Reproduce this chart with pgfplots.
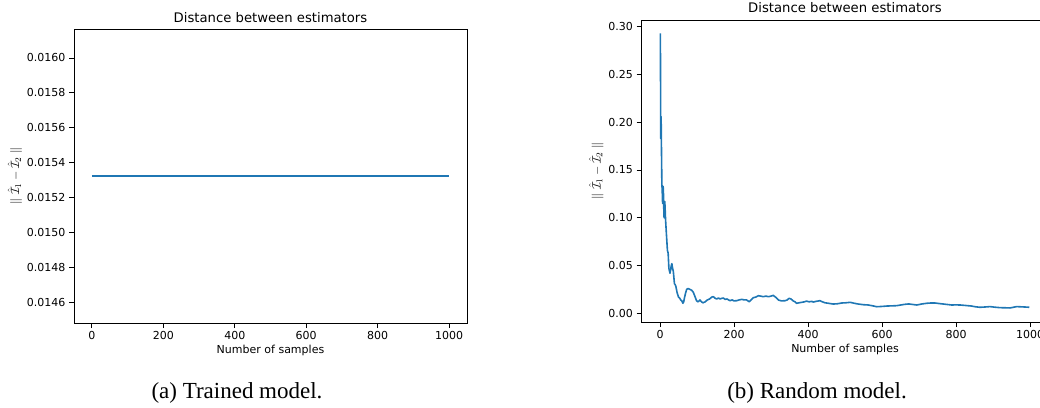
\documentclass[border=0pt]{standalone}
\usepackage{pgfplots}
\pgfplotsset{compat=1.18}
\usepackage{pgfplotstable}
\usepackage{fontspec}
\setmainfont{DejaVu Sans}
\newfontfamily\capfont{Liberation Serif}
\definecolor{mplblue}{HTML}{1F77B4}

\pgfplotstableread{
n v
0 0.015323
1000 0.015323
}\trained

\pgfplotstableread{
n v
1 0.293
2 0.183
3 0.206
4 0.170
5 0.136
6 0.128
7 0.115
8 0.133
9 0.131
10 0.112
11 0.100
12 0.112
13 0.117
14 0.108
15 0.098
17 0.085
20 0.066
22 0.063
24 0.047
27 0.042
29 0.046
30 0.049
32 0.052
34 0.047
36 0.044
39 0.031
41 0.030
43 0.028
46 0.022
50 0.017
53 0.016
56 0.014
59 0.013
62 0.0105
64 0.012
66 0.016
69 0.021
72 0.025
76 0.026
81 0.025
86 0.024
90 0.022
94 0.018
99 0.013
103 0.012
108 0.014
112 0.012
116 0.011
122 0.012
128 0.014
134 0.015
140 0.017
144 0.0174
148 0.016
153 0.015
158 0.016
162 0.015
167 0.0157
171 0.016
176 0.0146
181 0.015
189 0.0132
195 0.014
200 0.013
207 0.0132
214 0.014
221 0.0146
228 0.014
234 0.014
241 0.0121
246 0.014
252 0.0163
259 0.017
266 0.0184
272 0.018
279 0.0174
286 0.018
293 0.0174
300 0.018
306 0.0188
312 0.017
320 0.0139
328 0.013
338 0.0132
344 0.014
349 0.0157
354 0.015
360 0.013
365 0.012
369 0.0105
376 0.011
383 0.0115
390 0.012
396 0.0128
403 0.012
410 0.0125
414 0.0118
422 0.0125
432 0.0132
439 0.012
446 0.011
455 0.0105
468 0.0097
480 0.010
491 0.0108
502 0.011
514 0.0115
525 0.0105
536 0.0097
550 0.009
563 0.0087
575 0.0078
586 0.0069
600 0.0072
613 0.0076
627 0.0078
640 0.0080
652 0.0088
662 0.0094
672 0.0098
684 0.0092
694 0.0087
708 0.0098
721 0.0105
733 0.0108
743 0.0108
755 0.0102
766 0.0097
777 0.0092
788 0.0087
800 0.0088
811 0.0087
826 0.0082
842 0.0076
853 0.0068
865 0.0063
878 0.0066
892 0.007
905 0.0064
919 0.0059
932 0.0058
946 0.0056
955 0.0063
964 0.007
975 0.0068
986 0.0066
998 0.0063
}\randomm

\pgfplotsset{
  mystyle/.style={
    scale only axis,
    axis line style={black, line width=0.8pt},
    tick style={black, line width=0.8pt},
    major tick length=5pt,
    tick align=outside,
    tick pos=left,
    tick label style={font=\fontsize{11}{13}\selectfont},
    label style={font=\fontsize{11}{13}\selectfont},
    /pgf/number format/assume math mode=true,
    /pgf/number format/1000 sep={},
    scaled y ticks=false,
    scaled x ticks=false,
    xmin=-50, xmax=1050,
    xtick={0,200,400,600,800,1000},
    title={Distance between estimators},
    title style={font=\fontsize{13.2}{15}\selectfont, at={(axis description cs:0.5,1)}, anchor=base},
    xlabel={Number of samples},
    ylabel={$\|\;\hat{\mathcal{I}}_1 - \hat{\mathcal{I}}_2\;\|$},
    xlabel style={at={(axis description cs:0.5,0)}, anchor=base, yshift=-30pt},
    ylabel style={font=\fontsize{12.5}{14}\selectfont},
  }
}

\begin{document}
\begin{tikzpicture}
\path[use as bounding box, clip] (0,0) rectangle (1040pt,407pt);

\begin{axis}[mystyle,
  at={(74pt,84pt)}, anchor=south west,
  width=393pt, height=294pt,
  ymin=0.01448, ymax=0.016166,
  ytick={0.0146,0.0148,0.0150,0.0152,0.0154,0.0156,0.0158,0.0160},
  yticklabel style={/pgf/number format/fixed, /pgf/number format/fixed zerofill, /pgf/number format/precision=4},
  title style={yshift=0.3pt},
  ylabel style={at={(axis description cs:-0.150,0.5)}, anchor=center},
]
\addplot[mplblue, line width=1.6pt] table[x=n, y=v] {\trained};
\end{axis}

\begin{axis}[mystyle,
  at={(641.5pt,85pt)}, anchor=south west,
  width=407pt, height=302pt,
  ymin=-0.0091, ymax=0.307,
  ytick={0,0.05,0.10,0.15,0.20,0.25,0.30},
  yticklabel style={/pgf/number format/fixed, /pgf/number format/fixed zerofill, /pgf/number format/precision=2},
  title style={yshift=1.7pt},
  ylabel style={at={(axis description cs:-0.111,0.5)}, anchor=center},
]
\addplot[mplblue, line width=1.6pt, line join=round] table[x=n, y=v] {\randomm};
\end{axis}

\node[anchor=base, font=\capfont\fontsize{23}{26}\selectfont] at (237pt,9pt) {(a) Trained model.};
\node[anchor=base, font=\capfont\fontsize{23}{26}\selectfont] at (817pt,9pt) {(b) Random model.};
\end{tikzpicture}
\end{document}
